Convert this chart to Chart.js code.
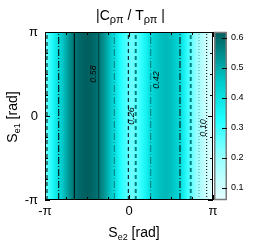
<!DOCTYPE html>
<html>
<head>
<meta charset="utf-8">
<script src="https://cdn.jsdelivr.net/npm/chart.js@4.4.1/dist/chart.umd.min.js"></script>
<style>
    html, body { margin: 0; padding: 0; background: #fff; }
    #wrap { width: 261px; height: 245px; }
</style>
</head>
<body>
<div id="wrap"><canvas id="chart" width="261" height="245"></canvas></div>
<script>
/* =========================
   DATOS
========================= */
const PI = Math.PI;

// S_e2 sample positions [rad]
const se2 = [
    -3.1416, -2.9845, -2.8274, -2.6704, -2.5133, -2.3562, -2.1991, -2.0420,
    -1.8850, -1.7279, -1.5708, -1.4137, -1.2566, -1.0996, -0.9425, -0.7854,
    -0.6283, -0.4712, -0.3142, -0.1571, 0.0000, 0.1571, 0.3142, 0.4712,
    0.6283, 0.7854, 0.9425, 1.0996, 1.2566, 1.4137, 1.5708, 1.7279,
    1.8850, 2.0420, 2.1991, 2.3562, 2.5133, 2.6704, 2.8274, 2.9845, 3.1416
];

// |C_rho_pi / T_rho_pi| at those positions (independent of S_e1)
const ratio = [
    0.22, 0.30, 0.35, 0.41, 0.45, 0.50, 0.55, 0.58,
    0.60, 0.61, 0.615, 0.61, 0.595, 0.575, 0.54, 0.49,
    0.44, 0.39, 0.33, 0.29, 0.258, 0.245, 0.27, 0.31,
    0.36, 0.41, 0.44, 0.46, 0.475, 0.48, 0.47, 0.45,
    0.425, 0.37, 0.30, 0.25, 0.20, 0.16, 0.12, 0.09, 0.07
];

// contour lines (S_e2 position, level)
const contourX = [-3.067, -2.629, -2.046, -1.133, -0.550, -0.026, 0.251, 0.812, 1.907, 2.308, 2.618, 2.906];
const contourLevel = [0.26, 0.42, 0.58, 0.58, 0.42, 0.26, 0.26, 0.42, 0.42, 0.26, 0.10, 0.10];

// contour labels
const labelText = ["0.58", "0.26", "0.42", "0.10"];
const labelX = [-1.346, 0.112, 1.047, 2.768];
const labelY = [1.571, 0.0, 1.346, -0.449];

// axes
const tickValues = [-PI, 0, PI];
const tickLabels = ["-π", "0", "π"];
const minorTicks = [-0.75 * PI, -0.5 * PI, -0.25 * PI, 0.25 * PI, 0.5 * PI, 0.75 * PI];
const cbMin = 0.06;
const cbMax = 0.62;
const cbTicks = [0.1, 0.2, 0.3, 0.4, 0.5, 0.6];

/* =========================
   ESTILOS
========================= */
const FONT = '"Liberation Sans", Arial, sans-serif';

const cmapStops = [
    [0.06, [232, 255, 255]],
    [0.20, [150, 255, 255]],
    [0.33, [30, 255, 255]],
    [0.45, [0, 205, 205]],
    [0.62, [0, 92, 92]]
];

const dashByLevel = {
    "0.58": [],
    "0.42": [7, 2, 1, 2],
    "0.26": [4, 3],
    "0.1": [1, 2]
};

const contourColor = ["#000", "#000", "#000", "#0b3b3b", "#007a7a", "#000",
                      "#007f7f", "#007a7a", "#000", "#007f7f", "#4e9e9e", "#000"];
const contourWidth = [1, 1, 1, 1, 1, 1, 2, 1, 1, 2, 1, 1];

function cmap(v) {
    for (let i = 1; i < cmapStops.length; i++) {
        const [v0, c0] = cmapStops[i - 1];
        const [v1, c1] = cmapStops[i];
        if (v <= v1 || i === cmapStops.length - 1) {
            const t = Math.max(0, Math.min(1, (v - v0) / (v1 - v0)));
            const c = c0.map((a, j) => Math.round(a + (c1[j] - a) * t));
            return `rgb(${c[0]},${c[1]},${c[2]})`;
        }
    }
}

/* =========================
   MAPA DE COLOR
========================= */
const heatmapPlugin = {
    id: "heatmap",
    beforeDatasetsDraw(chart) {
        const { ctx, scales } = chart;
        const x = scales.x, y = scales.y;
        const x0 = x.getPixelForValue(-PI), x1 = x.getPixelForValue(PI);
        const yt = y.getPixelForValue(PI), yb = y.getPixelForValue(-PI);

        const grad = ctx.createLinearGradient(x0, 0, x1, 0);
        se2.forEach((s, i) => {
            const p = (x.getPixelForValue(s) - x0) / (x1 - x0);
            grad.addColorStop(Math.max(0, Math.min(1, p)), cmap(ratio[i]));
        });

        ctx.save();
        ctx.fillStyle = grad;
        ctx.fillRect(x0, yt, x1 - x0, yb - yt);
        ctx.restore();
    }
};

/* =========================
   MARCO, TICKS, ETIQUETAS, BARRA
========================= */
const framePlugin = {
    id: "frame",
    afterDatasetsDraw(chart) {
        const { ctx, chartArea: a, scales } = chart;
        const x = scales.x, y = scales.y, cb = scales.cb;

        ctx.save();

        // contour labels
        ctx.fillStyle = "#000";
        ctx.font = "italic 9px " + FONT;
        ctx.textAlign = "center";
        ctx.textBaseline = "middle";
        labelText.forEach((t, i) => {
            ctx.save();
            ctx.translate(x.getPixelForValue(labelX[i]), y.getPixelForValue(labelY[i]));
            ctx.rotate(-PI / 2);
            ctx.fillText(t, 0, 0);
            ctx.restore();
        });

        // border
        ctx.strokeStyle = "#000";
        ctx.lineWidth = 1;
        ctx.strokeRect(a.left + 0.5, a.top + 0.5, a.right - a.left - 1, a.bottom - a.top - 1);

        // ticks (inward, mirrored)
        const drawTicks = (vals, len) => {
            ctx.beginPath();
            vals.forEach(v => {
                const px = Math.round(x.getPixelForValue(v)) + 0.5;
                ctx.moveTo(px, a.bottom); ctx.lineTo(px, a.bottom - len);
                ctx.moveTo(px, a.top); ctx.lineTo(px, a.top + len);
                const py = Math.round(y.getPixelForValue(v)) + 0.5;
                ctx.moveTo(a.left, py); ctx.lineTo(a.left + len, py);
                ctx.moveTo(a.right, py); ctx.lineTo(a.right - len, py);
            });
            ctx.stroke();
        };
        drawTicks(tickValues, 5);
        drawTicks(minorTicks, 3);

        // colour bar
        const bx = a.right + 1, bw = 13;
        const byTop = cb.getPixelForValue(cbMax), byBot = cb.getPixelForValue(cbMin);
        const g = ctx.createLinearGradient(0, byBot, 0, byTop);
        cmapStops.forEach(([v]) => {
            const p = (cb.getPixelForValue(v) - byBot) / (byTop - byBot);
            g.addColorStop(Math.max(0, Math.min(1, p)), cmap(v));
        });
        ctx.fillStyle = g;
        ctx.fillRect(bx, byTop, bw, byBot - byTop);
        ctx.strokeStyle = "#7a7a7a";
        ctx.lineWidth = 1.5;
        ctx.strokeRect(bx + 0.75, byTop + 0.5, bw - 1.5, byBot - byTop - 1);

        ctx.strokeStyle = "#000";
        ctx.lineWidth = 1;
        ctx.beginPath();
        cbTicks.forEach(v => {
            const py = Math.round(cb.getPixelForValue(v)) + 0.5;
            ctx.moveTo(bx + bw, py);
            ctx.lineTo(bx + bw - 5, py);
        });
        ctx.stroke();

        ctx.restore();
    }
};

/* =========================
   TITULOS CON SUBINDICES
========================= */
function drawRich(ctx, parts, cx, baseline, size, subSize) {
    const widths = parts.map(p => {
        ctx.font = (p.sub ? subSize : size) + "px " + FONT;
        return ctx.measureText(p.t).width;
    });
    const total = widths.reduce((s, w) => s + w, 0);
    let xx = cx - total / 2;
    ctx.textAlign = "left";
    ctx.textBaseline = "alphabetic";
    parts.forEach((p, i) => {
        ctx.font = (p.sub ? subSize : size) + "px " + FONT;
        ctx.fillText(p.t, xx, baseline + (p.sub ? 3 : 0));
        xx += widths[i];
    });
}

const titlesPlugin = {
    id: "titles",
    afterDraw(chart) {
        const { ctx, chartArea: a } = chart;
        ctx.save();
        ctx.fillStyle = "#000";

        drawRich(ctx, [
            { t: "|C" }, { t: "ρπ", sub: true }, { t: " / T" }, { t: "ρπ", sub: true }, { t: " |" }
        ], 130.5, 20, 14, 11);

        drawRich(ctx, [
            { t: "S" }, { t: "e2", sub: true }, { t: " [rad]" }
        ], 134, a.bottom + 37, 14, 9);

        ctx.save();
        ctx.translate(17, (a.top + a.bottom) / 2 + 1);
        ctx.rotate(-PI / 2);
        drawRich(ctx, [
            { t: "S" }, { t: "e1", sub: true }, { t: " [rad]" }
        ], 0, 0, 14, 9);
        ctx.restore();

        ctx.restore();
    }
};

/* =========================
   GRAFICO
========================= */
const datasets = contourX.map((cx, i) => ({
    data: [{ x: cx, y: -PI }, { x: cx, y: PI }],
    showLine: true,
    pointRadius: 0,
    borderColor: contourColor[i],
    borderWidth: contourWidth[i],
    borderDash: dashByLevel[String(contourLevel[i])],
    yAxisID: "y"
}));

const tickFont = { family: FONT, size: 13 };

new Chart(document.getElementById("chart"), {
    type: "scatter",
    data: { datasets },
    options: {
        responsive: false,
        animation: false,
        layout: { padding: { top: 32, left: 0, right: 0, bottom: 0 } },
        plugins: {
            legend: { display: false },
            tooltip: { enabled: false }
        },
        scales: {
            x: {
                type: "linear",
                min: -PI,
                max: PI,
                grid: { display: false, drawTicks: false },
                border: { display: false },
                afterBuildTicks: s => { s.ticks = tickValues.map(v => ({ value: v })); },
                afterFit: s => { s.height = 45; },
                ticks: {
                    autoSkip: false,
                    maxRotation: 0,
                    padding: 4,
                    color: "#000",
                    font: tickFont,
                    callback: (v, i) => tickLabels[i]
                }
            },
            y: {
                type: "linear",
                position: "left",
                min: -PI,
                max: PI,
                grid: { display: false, drawTicks: false },
                border: { display: false },
                afterBuildTicks: s => { s.ticks = tickValues.map(v => ({ value: v })); },
                afterFit: s => { s.width = 45; },
                ticks: {
                    autoSkip: false,
                    padding: 7,
                    color: "#000",
                    font: tickFont,
                    callback: (v, i) => tickLabels[i]
                }
            },
            cb: {
                type: "linear",
                position: "right",
                min: cbMin,
                max: cbMax,
                grid: { display: false, drawTicks: false },
                border: { display: false },
                afterBuildTicks: s => { s.ticks = cbTicks.map(v => ({ value: v })); },
                afterFit: s => { s.width = 48; },
                ticks: {
                    autoSkip: false,
                    padding: 18,
                    color: "#000",
                    font: { family: FONT, size: 9 },
                    callback: v => v.toFixed(1)
                }
            }
        }
    },
    plugins: [heatmapPlugin, framePlugin, titlesPlugin]
});
</script>
</body>
</html>
